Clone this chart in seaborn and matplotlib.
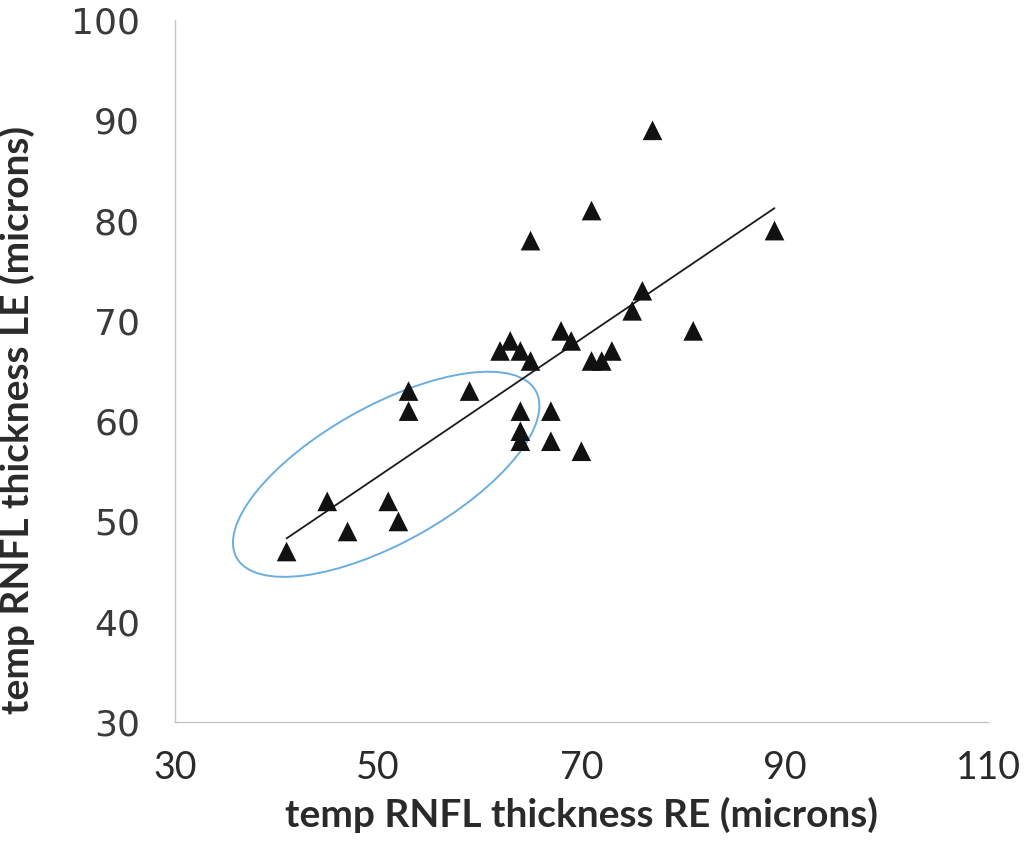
import matplotlib
matplotlib.use("Agg")
import matplotlib.pyplot as plt
from matplotlib.patches import Ellipse
import seaborn as sns
import pandas as pd

# Data
re_thickness = [41, 45, 47, 51, 52, 53, 53, 59, 62, 63, 64, 65, 65, 64, 64, 64,
                67, 67, 70, 68, 69, 71, 71, 72, 73, 75, 76, 77, 81, 89]
le_thickness = [47, 52, 49, 52, 50, 63, 61, 63, 67, 68, 67, 66, 78, 61, 59, 58,
                61, 58, 57, 69, 68, 81, 66, 66, 67, 71, 73, 89, 69, 79]
x_ticks = [30, 50, 70, 90, 110]
y_ticks = [30, 40, 50, 60, 70, 80, 90, 100]
x_label = "temp RNFL thickness RE (microns)"
y_label = "temp RNFL thickness LE (microns)"

df = pd.DataFrame({"RE": re_thickness, "LE": le_thickness})

sns.set_style("white")
plt.rcParams["font.family"] = ["DejaVu Sans"]

fig = plt.figure(figsize=(10.34, 8.41), dpi=100)
ax = fig.add_axes([0.169, 0.1415, 0.7865, 0.8347])

sns.regplot(data=df, x="RE", y="LE", ax=ax, ci=None, marker="^",
            scatter_kws={"s": 200, "color": "#111111", "alpha": 1.0,
                         "edgecolor": "none", "zorder": 3},
            line_kws={"color": "#1a1a1a", "linewidth": 1.3, "zorder": 2})

ell = Ellipse((50.8, 54.7), width=33.8, height=13.6, angle=29.6,
              fill=False, edgecolor="#6aaee0", linewidth=1.4, zorder=1)
ax.add_patch(ell)

ax.set_xlim(30, 110)
ax.set_ylim(30, 100)
ax.set_xticks(x_ticks)
ax.set_yticks(y_ticks)

for side in ["top", "right"]:
    ax.spines[side].set_visible(False)
for side in ["left", "bottom"]:
    ax.spines[side].set_color("#c4c4c4")
    ax.spines[side].set_linewidth(1.0)

ax.tick_params(axis="both", which="both", direction="out", length=8,
               width=1.0, color="#c4c4c4")
ax.tick_params(axis="y", labelsize=26, pad=17, labelcolor="#3a3a3a")
ax.tick_params(axis="x", labelsize=27, pad=12, labelcolor="#2a2a2a")
for lab in ax.get_xticklabels():
    lab.set_family(["Lato", "DejaVu Sans"])

ax.set_xlabel(x_label, fontsize=28, fontweight="bold", color="#2a2a2a",
              family=["Lato", "DejaVu Sans"])
ax.set_ylabel(y_label, fontsize=28, fontweight="bold", color="#2a2a2a",
              family=["Lato", "DejaVu Sans"])
ax.xaxis.set_label_coords(0.5, -0.106)
ax.yaxis.set_label_coords(-0.172, 0.431)

fig.savefig("out.png", dpi=100, facecolor="white")
